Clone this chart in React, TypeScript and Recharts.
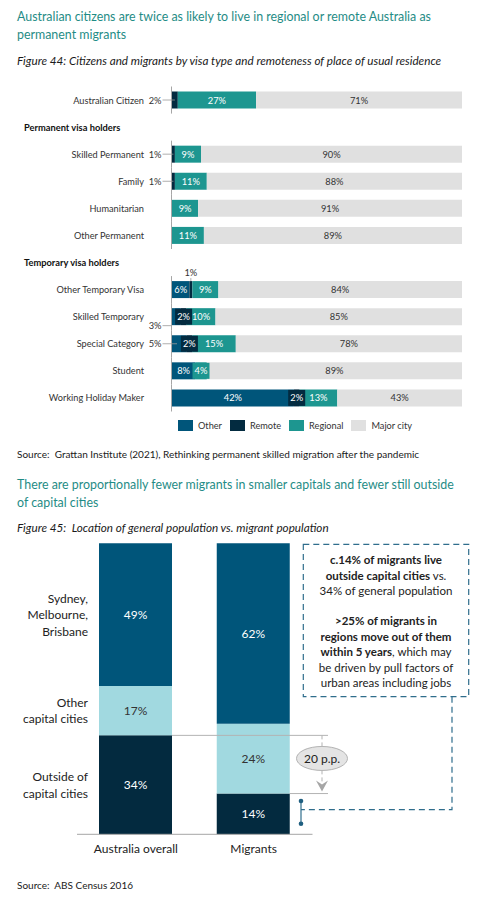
import React from "react";
import { Bar, BarChart, LabelList, XAxis, YAxis } from "recharts";

const FONT = 'Lato, "Open Sans", sans-serif';
const INK = "#333333";
const HEADING = "#1f8c86";

// ---- Figure 44 data ----
const visaCategories = [
  "Australian Citizen",
  "Permanent visa holders",
  "Skilled Permanent",
  "Family",
  "Humanitarian",
  "Other Permanent",
  "Temporary visa holders",
  "Other Temporary Visa",
  "Skilled Temporary",
  "Special Category",
  "Student",
  "Working Holiday Maker",
];
const headerRows = ["Permanent visa holders", "Temporary visa holders"];
const otherShare = [0, null, 0, 0, 0, 0, null, 6, 3, 5, 8, 42];
const remoteShare = [2, null, 1, 1, 0, 0, null, 1, 2, 2, 0, 2];
const regionalShare = [27, null, 9, 11, 9, 11, null, 9, 10, 15, 4, 13];
const majorShare = [71, null, 90, 88, 91, 89, null, 84, 85, 78, 89, 43];

// ---- Figure 45 data ----
const populations = ["Australia overall", "Migrants"];
const outsideCapitals = [34, 14];
const otherCapitals = [17, 24];
const bigThree = [49, 62];

// label placement for the small segments (styling, not data)
const leftLabels: Record<string, number> = {
  "Australian Citizen|remote": 0,
  "Skilled Permanent|remote": 0,
  "Family|remote": 0,
  "Skilled Temporary|other": 9,
  "Special Category|other": 0,
};
const boxedLabels = [
  "Skilled Temporary|remote",
  "Special Category|remote",
  "Working Holiday Maker|remote",
  "Student|regional",
];
const aboveLabels = ["Other Temporary Visa|remote"];

const visaSeries = [
  { key: "other", name: "Other", color: "#00557a", text: "#ffffff" },
  { key: "remote", name: "Remote", color: "#032b40", text: "#ffffff" },
  { key: "regional", name: "Regional", color: "#1d9690", text: "#ffffff" },
  { key: "major", name: "Major city", color: "#e0e0e0", text: INK },
];

const visaData = visaCategories.map((c, i) => ({
  category: c,
  other: otherShare[i],
  remote: remoteShare[i],
  regional: regionalShare[i],
  major: majorShare[i],
}));

const placeSeries = [
  { key: "outside", color: "#032a3f", text: "#ffffff", lines: ["Outside of", "capital cities"] },
  { key: "otherCap", color: "#a1d9e0", text: INK, lines: ["Other", "capital cities"] },
  { key: "big", color: "#00557a", text: "#ffffff", lines: ["Sydney,", "Melbourne,", "Brisbane"] },
];
const placeData = populations.map((p, i) => ({
  place: p,
  outside: outsideCapitals[i],
  otherCap: otherCapitals[i],
  big: bigThree[i],
}));

// chart 1 geometry
const C1_TOP = 80;
const C1_H = 340;
const C1_M = { top: 6.5, right: 28, bottom: 8.5, left: 0 };
const AXIS_X = 171.5;
const BAND = (C1_H - C1_M.top - C1_M.bottom) / visaCategories.length;

// chart 2 geometry
const C2_TOP = 530;
const C2_H = 340;
const C2_M = { top: 13.3, right: 177.5, bottom: 5.7, left: 77 };
const C2_PLOT_TOP = C2_TOP + C2_M.top;
const C2_PLOT_H = C2_H - C2_M.top - C2_M.bottom - 30;
const yOf = (v: number) => C2_PLOT_TOP + (1 - v / 100) * C2_PLOT_H;

const box = (p: any) => {
  const vb = p.viewBox && p.viewBox.width !== undefined ? p.viewBox : p;
  return { x: vb.x, y: vb.y, width: vb.width, height: vb.height };
};

const LABEL_FS = 9.3;

const segmentLabel = (key: string, color: string, textColor: string) => (props: any) => {
  const { value } = props;
  if (!value) return null;
  const { x, y, width, height } = box(props);
  const cx = x + width / 2;
  const cy = y + height / 2;
  // find the row from the bar's position (label indices skip empty bars)
  const row = Math.floor((cy - C1_M.top) / BAND);
  const id = visaCategories[row] + "|" + key;
  const txt = `${value}%`;
  if (id in leftLabels) {
    const dy = leftLabels[id];
    return (
      <g>
        <line x1={AXIS_X - 9} x2={dy ? AXIS_X : x + Math.min(width / 2, 5)} y1={cy + dy} y2={cy + dy} stroke="#9a9a9a" strokeWidth={0.8} />
        <text x={AXIS_X - 10} y={cy + dy} textAnchor="end" dominantBaseline="central" fontSize={LABEL_FS} fill={INK} fontFamily={FONT}>
          {txt}
        </text>
      </g>
    );
  }
  if (aboveLabels.includes(id)) {
    return (
      <g>
        <line x1={cx} x2={cx} y1={y - 3} y2={y} stroke="#9a9a9a" strokeWidth={0.8} />
        <text x={cx} y={y - 9} textAnchor="middle" dominantBaseline="central" fontSize={LABEL_FS} fill={INK} fontFamily={FONT}>
          {txt}
        </text>
      </g>
    );
  }
  if (boxedLabels.includes(id)) {
    return (
      <g>
        <rect x={cx - 8.5} y={cy - 8} width={17} height={16} fill={color} />
        <text x={cx} y={cy} textAnchor="middle" dominantBaseline="central" fontSize={LABEL_FS} fill={textColor} fontFamily={FONT}>
          {txt}
        </text>
      </g>
    );
  }
  return (
    <text x={cx} y={cy} textAnchor="middle" dominantBaseline="central" fontSize={LABEL_FS} fill={textColor} fontFamily={FONT}>
      {txt}
    </text>
  );
};

const VisaTick = (props: any) => {
  const { y, payload } = props;
  const name = payload.value;
  if (headerRows.includes(name)) {
    return (
      <text x={24} y={y} dominantBaseline="central" fontSize={9.3} fontWeight="bold" fill="#111" fontFamily={FONT}>
        {name}
      </text>
    );
  }
  return (
    <g>
      <line x1={AXIS_X} x2={AXIS_X} y1={y - BAND / 2} y2={y + BAND / 2} stroke="#a6a6a6" strokeWidth={1} />
      <text x={144} y={y} textAnchor="end" dominantBaseline="central" fontSize={9.2} fill={INK} fontFamily={FONT}>
        {name}
      </text>
    </g>
  );
};

const placeLabel = (s: (typeof placeSeries)[number]) => (props: any) => {
  const { value } = props;
  const { x, y, width, height } = box(props);
  const cy = y + height / 2;
  const lh = 16.5;
  const first = x < C2_M.left + 60;
  return (
    <g fontFamily={FONT}>
      <text x={x + width / 2} y={cy} textAnchor="middle" dominantBaseline="central" fontSize={12} fill={s.text}>
        {`${value}%`}
      </text>
      {first &&
        s.lines.map((l, i) => (
          <text key={l} x={x - 11} y={cy + (i - (s.lines.length - 1) / 2) * lh} textAnchor="end" dominantBaseline="central" fontSize={12} fill="#222">
            {l}
          </text>
        ))}
    </g>
  );
};

const PlaceTick = (props: any) => {
  const { x, y, payload } = props;
  return (
    <text x={x} y={y + 6} textAnchor="middle" dominantBaseline="central" fontSize={12} fill="#222" fontFamily={FONT}>
      {payload.value}
    </text>
  );
};

const textLine = (top: number, size: number, extra: React.CSSProperties = {}): React.CSSProperties => ({
  position: "absolute",
  left: 17,
  top,
  fontSize: size,
  fontFamily: FONT,
  whiteSpace: "nowrap",
  ...extra,
});

export default function App() {
  const gap = outsideCapitals[0] - outsideCapitals[1];
  const yA = yOf(outsideCapitals[0]);
  const yB = yOf(outsideCapitals[1]);
  const yBase = yOf(0);
  const midGap = (yA + yB) / 2;
  return (
    <div style={{ position: "absolute", left: 0, top: 0, width: 490, height: 901, background: "#fff", overflow: "hidden" }}>
      <div style={textLine(8, 12.4, { color: HEADING, lineHeight: "18px" })}>
        Australian citizens are twice as likely to live in regional or remote Australia as
        <br />
        permanent migrants
      </div>
      <div style={textLine(53, 11.7, { fontStyle: "italic", color: "#1a1a1a", lineHeight: "14px" })}>
        Figure 44: Citizens and migrants by visa type and remoteness of place of usual residence
      </div>

      <div style={{ position: "absolute", left: 0, top: C1_TOP }}>
        <BarChart width={490} height={C1_H} data={visaData} layout="vertical" margin={C1_M} barSize={17}>
          <XAxis type="number" domain={[0, 100]} allowDataOverflow hide />
          <YAxis type="category" dataKey="category" width={172} axisLine={false} tickLine={false} interval={0} tick={<VisaTick />} />
          {visaSeries.map((s) => (
            <Bar key={s.key} dataKey={s.key} name={s.name} stackId="v" fill={s.color} isAnimationActive={false}>
              <LabelList dataKey={s.key} content={segmentLabel(s.key, s.color, s.text)} />
            </Bar>
          ))}
        </BarChart>
      </div>

      <div style={{ position: "absolute", left: 178, top: 420, display: "flex", alignItems: "center", fontFamily: FONT, fontSize: 9.2, color: INK }}>
        {visaSeries.map((s) => (
          <div key={s.key} style={{ display: "flex", alignItems: "center", marginRight: 8 }}>
            <span style={{ display: "inline-block", width: 15, height: 11, background: s.color, marginRight: 5 }} />
            {s.name}
          </div>
        ))}
      </div>

      <div style={textLine(447, 10, { color: "#1a1a1a", lineHeight: "14px" })}>
        Source:&nbsp; Grattan Institute (2021), Rethinking permanent skilled migration after the pandemic
      </div>
      <div style={textLine(476, 12.4, { color: HEADING, lineHeight: "17.5px" })}>
        There are proportionally fewer migrants in smaller capitals and fewer still outside
        <br />
        of capital cities
      </div>
      <div style={textLine(520, 11.7, { fontStyle: "italic", color: "#1a1a1a", lineHeight: "14px" })}>
        Figure 45:&nbsp; Location of general population vs. migrant population
      </div>

      <div style={{ position: "absolute", left: 0, top: C2_TOP }}>
        <BarChart width={490} height={C2_H} data={placeData} margin={C2_M} barSize={73}>
          <YAxis type="number" domain={[0, 100]} hide />
          <XAxis dataKey="place" height={30} tickLine={false} axisLine={{ stroke: "#a6a6a6" }} interval={0} tick={<PlaceTick />} />
          {placeSeries.map((s) => (
            <Bar key={s.key} dataKey={s.key} stackId="p" fill={s.color} isAnimationActive={false}>
              <LabelList dataKey={s.key} content={placeLabel(s)} />
            </Bar>
          ))}
        </BarChart>
      </div>

      <svg width={490} height={901} style={{ position: "absolute", left: 0, top: 0, pointerEvents: "none" }}>
        <g stroke="#b3b3b3" strokeWidth={1}>
          <line x1={172} x2={328} y1={yA} y2={yA} />
          <line x1={289.5} x2={328} y1={yB} y2={yB} />
          <line x1={322} x2={322} y1={yA} y2={yB - 10} strokeDasharray="4 3" />
        </g>
        <path d={`M316,${yB - 13} L322,${yB - 2} L328,${yB - 13} L322,${yB - 9} Z`} fill="#a6a6a6" />
        <ellipse cx={322} cy={midGap - 6} rx={25.5} ry={12} fill="#e4e4e4" stroke="#b3b3b3" />
        <text x={322} y={midGap - 6} textAnchor="middle" dominantBaseline="central" fontSize={12} fill="#222" fontFamily={FONT}>
          {`${gap} p.p.`}
        </text>

        <g stroke="#2f6d8c" strokeWidth={1.2} fill="none" strokeDasharray="6 4">
          <rect x={303.3} y={544.3} width={165.4} height={152.4} />
          <polyline points={`452,696.7 452,${yB + 16} 301,${yB + 16}`} />
        </g>
        <line x1={301} x2={301} y1={yB + 7.5} y2={yBase - 10.5} stroke="#2f6d8c" strokeWidth={1.2} />
        <circle cx={301} cy={yB + 7.5} r={2.3} fill="#1f5f80" />
        <circle cx={301} cy={yBase - 10.5} r={2.3} fill="#1f5f80" />
      </svg>

      <div
        style={{
          position: "absolute",
          left: 303,
          top: 552,
          width: 166,
          textAlign: "center",
          fontFamily: FONT,
          fontSize: 11.5,
          lineHeight: "15.5px",
          color: "#222",
        }}
      >
        <b>c.14% of migrants live</b>
        <br />
        <b>outside capital cities</b> vs.
        <br />
        34% of general population
        <div style={{ height: 14.5 }} />
        <b>&gt;25% of migrants in</b>
        <br />
        <b>regions move out of them</b>
        <br />
        <b>within 5 years</b>, which may
        <br />
        be driven by pull factors of
        <br />
        urban areas including jobs
      </div>

      <div style={textLine(878, 10, { color: "#1a1a1a", lineHeight: "14px" })}>Source:&nbsp; ABS Census 2016</div>
    </div>
  );
}
